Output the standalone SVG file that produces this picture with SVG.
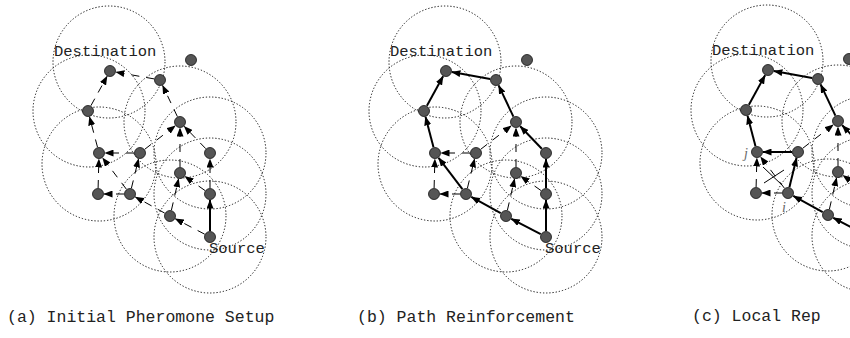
<svg xmlns="http://www.w3.org/2000/svg" width="850" height="338" viewBox="0 0 850 338">
<defs>
<marker id="ah" markerWidth="9" markerHeight="7" refX="8.5" refY="3.5" orient="auto" markerUnits="userSpaceOnUse">
<path d="M0,0 L9,3.5 L0,7 z" fill="#000"/>
</marker>
<style>
.rng{fill:none;stroke:#111;stroke-width:1;stroke-dasharray:1.3,1.9}
.nd{fill:#555;stroke:#111;stroke-width:0.8}
.ds{fill:none;stroke:#000;stroke-width:1;stroke-dasharray:8,7;marker-end:url(#ah)}
.sl{fill:none;stroke:#000;stroke-width:2;marker-end:url(#ah)}
.lbl{font-family:"Liberation Mono",monospace;font-size:15.5px;fill:#222}
.cap{font-family:"Liberation Mono",monospace;font-size:16.5px;fill:#222}
.it{font-family:"Liberation Serif",serif;font-style:italic;font-size:14px;fill:#666}
</style>
</defs>
<rect width="850" height="338" fill="#fff"/>

<!-- Panel a -->
<g id="panel-a">
<g id="a-ranges">
<circle class="rng" cx="109" cy="62" r="56"/>
<circle class="rng" cx="89" cy="111" r="56"/>
<circle class="rng" cx="180" cy="122" r="56"/>
<circle class="rng" cx="99" cy="164" r="57"/>
<circle class="rng" cx="210" cy="153" r="56"/>
<circle class="rng" cx="210" cy="194" r="56"/>
<circle class="rng" cx="210" cy="237" r="56"/>
<circle class="rng" cx="170" cy="216" r="56"/>
</g>
<g id="a-connectors">
<line class="sl" x1="210" y1="231" x2="210" y2="200"/>
<line class="ds" x1="204.7" y1="234.2" x2="175.3" y2="218.8"/>
<line class="ds" x1="171.4" y1="210.2" x2="178.6" y2="178.8"/>
<line class="ds" x1="205.1" y1="190.6" x2="184.9" y2="176.4"/>
<line class="ds" x1="210" y1="188" x2="210" y2="159"/>
<line class="ds" x1="180" y1="167" x2="180" y2="128"/>
<line class="ds" x1="205.8" y1="148.7" x2="184.2" y2="126.3"/>
<line class="ds" x1="144.7" y1="149.3" x2="175.3" y2="125.7"/>
<line class="ds" x1="177.4" y1="116.6" x2="162.6" y2="85.4"/>
<line class="ds" x1="154.1" y1="78.9" x2="115.9" y2="72.1"/>
<line class="ds" x1="90.9" y1="105.7" x2="107.1" y2="76.3"/>
<line class="ds" x1="97.5" y1="147.2" x2="89.5" y2="116.8"/>
<line class="ds" x1="134" y1="153" x2="105" y2="153"/>
<line class="ds" x1="98.1" y1="188" x2="98.9" y2="159"/>
<line class="ds" x1="126.4" y1="189.2" x2="102.6" y2="157.8"/>
<line class="ds" x1="131.4" y1="188.2" x2="138.6" y2="158.8"/>
<line class="ds" x1="164.7" y1="213.1" x2="135.3" y2="196.9"/>
<line class="ds" x1="124" y1="194" x2="104" y2="194"/>
</g>
<g id="a-dest"><circle class="nd" cx="110" cy="71" r="5.5"/><text class="lbl" x="54" y="56">Destination</text></g>
<g id="a-n2"><circle class="nd" cx="160" cy="80" r="5.5"/></g>
<g id="a-iso"><circle class="nd" cx="191" cy="60" r="5.5"/></g>
<g id="a-n3"><circle class="nd" cx="88" cy="111" r="5.5"/></g>
<g id="a-n4"><circle class="nd" cx="180" cy="122" r="5.5"/></g>
<g id="a-n5"><circle class="nd" cx="99" cy="153" r="5.5"/></g>
<g id="a-n6"><circle class="nd" cx="140" cy="153" r="5.5"/></g>
<g id="a-n7"><circle class="nd" cx="210" cy="153" r="5.5"/></g>
<g id="a-n8"><circle class="nd" cx="180" cy="173" r="5.5"/></g>
<g id="a-n9"><circle class="nd" cx="210" cy="194" r="5.5"/></g>
<g id="a-n10"><circle class="nd" cx="170" cy="216" r="5.5"/></g>
<g id="a-n11"><circle class="nd" cx="98" cy="194" r="5.5"/></g>
<g id="a-n12"><circle class="nd" cx="130" cy="194" r="5.5"/></g>
<g id="a-src"><circle class="nd" cx="210" cy="237" r="5.5"/><text class="lbl" x="209" y="253">Source</text></g>
<text class="cap" x="7" y="322">(a) Initial Pheromone Setup</text>
</g>

<!-- Panel b -->
<g id="panel-b" transform="translate(336,0)">
<g id="b-ranges">
<circle class="rng" cx="109" cy="62" r="56"/>
<circle class="rng" cx="89" cy="111" r="56"/>
<circle class="rng" cx="180" cy="122" r="56"/>
<circle class="rng" cx="99" cy="164" r="57"/>
<circle class="rng" cx="210" cy="153" r="56"/>
<circle class="rng" cx="210" cy="194" r="56"/>
<circle class="rng" cx="210" cy="237" r="56"/>
<circle class="rng" cx="170" cy="216" r="56"/>
</g>
<g id="b-connectors">
<line class="sl" x1="210" y1="231" x2="210" y2="200"/>
<line class="sl" x1="204.7" y1="234.2" x2="175.3" y2="218.8"/>
<line class="ds" x1="171.4" y1="210.2" x2="178.6" y2="178.8"/>
<line class="ds" x1="205.1" y1="190.6" x2="184.9" y2="176.4"/>
<line class="sl" x1="210" y1="188" x2="210" y2="159"/>
<line class="ds" x1="180" y1="167" x2="180" y2="128"/>
<line class="sl" x1="205.8" y1="148.7" x2="184.2" y2="126.3"/>
<line class="ds" x1="144.7" y1="149.3" x2="175.3" y2="125.7"/>
<line class="sl" x1="177.4" y1="116.6" x2="162.6" y2="85.4"/>
<line class="sl" x1="154.1" y1="78.9" x2="115.9" y2="72.1"/>
<line class="sl" x1="90.9" y1="105.7" x2="107.1" y2="76.3"/>
<line class="sl" x1="97.5" y1="147.2" x2="89.5" y2="116.8"/>
<line class="ds" x1="134" y1="153" x2="105" y2="153"/>
<line class="ds" x1="98.1" y1="188" x2="98.9" y2="159"/>
<line class="sl" x1="126.4" y1="189.2" x2="102.6" y2="157.8"/>
<line class="ds" x1="131.4" y1="188.2" x2="138.6" y2="158.8"/>
<line class="sl" x1="164.7" y1="213.1" x2="135.3" y2="196.9"/>
<line class="ds" x1="124" y1="194" x2="104" y2="194"/>
</g>
<g id="b-dest"><circle class="nd" cx="110" cy="71" r="5.5"/><text class="lbl" x="54" y="56">Destination</text></g>
<g id="b-n2"><circle class="nd" cx="160" cy="80" r="5.5"/></g>
<g id="b-iso"><circle class="nd" cx="191" cy="60" r="5.5"/></g>
<g id="b-n3"><circle class="nd" cx="88" cy="111" r="5.5"/></g>
<g id="b-n4"><circle class="nd" cx="180" cy="122" r="5.5"/></g>
<g id="b-n5"><circle class="nd" cx="99" cy="153" r="5.5"/></g>
<g id="b-n6"><circle class="nd" cx="140" cy="153" r="5.5"/></g>
<g id="b-n7"><circle class="nd" cx="210" cy="153" r="5.5"/></g>
<g id="b-n8"><circle class="nd" cx="180" cy="173" r="5.5"/></g>
<g id="b-n9"><circle class="nd" cx="210" cy="194" r="5.5"/></g>
<g id="b-n10"><circle class="nd" cx="170" cy="216" r="5.5"/></g>
<g id="b-n11"><circle class="nd" cx="98" cy="194" r="5.5"/></g>
<g id="b-n12"><circle class="nd" cx="130" cy="194" r="5.5"/></g>
<g id="b-src"><circle class="nd" cx="210" cy="237" r="5.5"/><text class="lbl" x="209" y="253">Source</text></g>
<text class="cap" x="21" y="322">(b) Path Reinforcement</text>
</g>

<!-- Panel c -->
<g id="panel-c" transform="translate(658,-1)">
<g id="c-ranges">
<circle class="rng" cx="109" cy="62" r="56"/>
<circle class="rng" cx="89" cy="111" r="56"/>
<circle class="rng" cx="180" cy="122" r="56"/>
<circle class="rng" cx="99" cy="164" r="57"/>
<circle class="rng" cx="210" cy="153" r="56"/>
<circle class="rng" cx="210" cy="194" r="56"/>
<circle class="rng" cx="210" cy="237" r="56"/>
<circle class="rng" cx="170" cy="216" r="56"/>
</g>
<g id="c-connectors">
<line class="sl" x1="210" y1="231" x2="210" y2="200"/>
<line class="sl" x1="204.7" y1="234.2" x2="175.3" y2="218.8"/>
<line class="ds" x1="171.4" y1="210.2" x2="178.6" y2="178.8"/>
<line class="ds" x1="205.1" y1="190.6" x2="184.9" y2="176.4"/>
<line class="sl" x1="210" y1="188" x2="210" y2="159"/>
<line class="ds" x1="180" y1="167" x2="180" y2="128"/>
<line class="sl" x1="205.8" y1="148.7" x2="184.2" y2="126.3"/>
<line class="ds" x1="144.7" y1="149.3" x2="175.3" y2="125.7"/>
<line class="sl" x1="177.4" y1="116.6" x2="162.6" y2="85.4"/>
<line class="sl" x1="154.1" y1="78.9" x2="115.9" y2="72.1"/>
<line class="sl" x1="90.9" y1="105.7" x2="107.1" y2="76.3"/>
<line class="sl" x1="97.5" y1="147.2" x2="89.5" y2="116.8"/>
<line class="sl" x1="134" y1="153" x2="105" y2="153"/>
<line class="ds" x1="98.1" y1="188" x2="98.9" y2="159"/>
<line class="ds" x1="126.4" y1="189.2" x2="102.6" y2="157.8"/>
<line class="sl" x1="131.4" y1="188.2" x2="138.6" y2="158.8"/>
<line class="sl" x1="164.7" y1="213.1" x2="135.3" y2="196.9"/>
<line class="ds" x1="124" y1="194" x2="104" y2="194" stroke="#777"/>
<line x1="105" y1="168" x2="124" y2="186" stroke="#000" stroke-width="1"/>
<line x1="106" y1="184" x2="126" y2="171" stroke="#000" stroke-width="1"/>
</g>
<g id="c-dest"><circle class="nd" cx="110" cy="71" r="5.5"/><text class="lbl" x="54" y="56">Destination</text></g>
<g id="c-n2"><circle class="nd" cx="160" cy="80" r="5.5"/></g>
<g id="c-iso"><circle class="nd" cx="191" cy="60" r="5.5"/></g>
<g id="c-n3"><circle class="nd" cx="88" cy="111" r="5.5"/></g>
<g id="c-n4"><circle class="nd" cx="180" cy="122" r="5.5"/></g>
<g id="c-j"><circle class="nd" cx="99" cy="153" r="5.5"/><text class="it" x="86" y="159">j</text></g>
<g id="c-n6"><circle class="nd" cx="140" cy="153" r="5.5"/></g>
<g id="c-n8"><circle class="nd" cx="180" cy="173" r="5.5"/></g>
<g id="c-n10"><circle class="nd" cx="170" cy="216" r="5.5"/></g>
<g id="c-n11"><circle class="nd" cx="98" cy="194" r="5.5"/></g>
<g id="c-i"><circle class="nd" cx="130" cy="194" r="5.5"/><text class="it" x="124" y="213">i</text></g>
<text class="cap" x="34" y="322">(c) Local Rep</text>
</g>
</svg>
